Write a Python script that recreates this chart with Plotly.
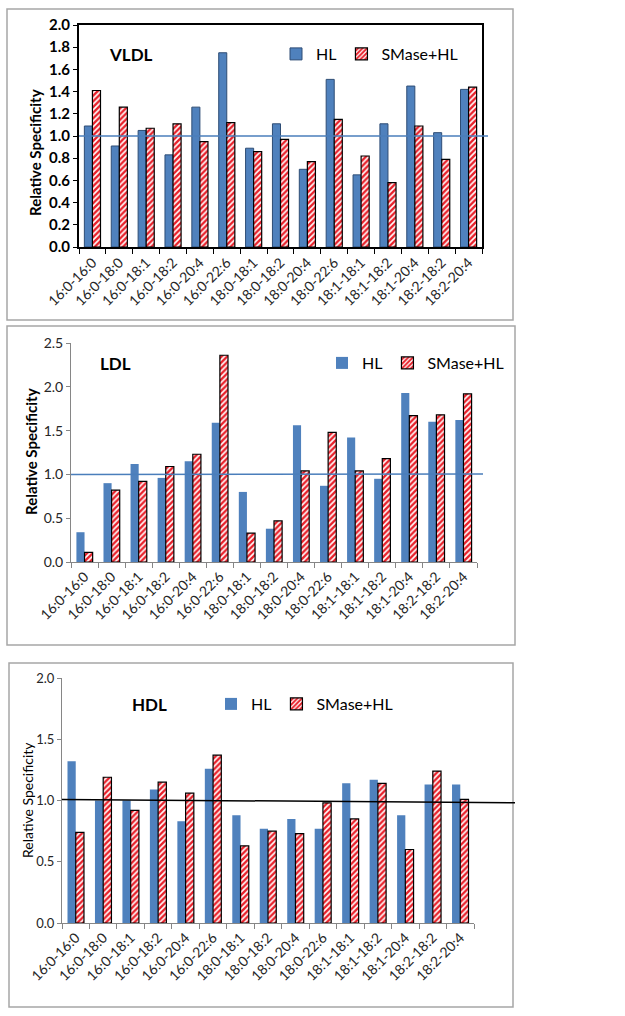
import plotly.graph_objects as go

categories = ["16:0-16:0", "16:0-18:0", "16:0-18:1", "16:0-18:2", "16:0-20:4", "16:0-22:6",
              "18:0-18:1", "18:0-18:2", "18:0-20:4", "18:0-22:6", "18:1-18:1", "18:1-18:2",
              "18:1-20:4", "18:2-18:2", "18:2-20:4"]

vldl_hl = [1.09, 0.91, 1.05, 0.83, 1.26, 1.75, 0.89, 1.11, 0.70, 1.51, 0.65, 1.11, 1.45, 1.03, 1.42]
vldl_smase = [1.41, 1.26, 1.07, 1.11, 0.95, 1.12, 0.86, 0.97, 0.77, 1.15, 0.82, 0.58, 1.09, 0.79, 1.44]

ldl_hl = [0.34, 0.90, 1.12, 0.96, 1.15, 1.59, 0.80, 0.38, 1.56, 0.87, 1.42, 0.95, 1.93, 1.60, 1.62]
ldl_smase = [0.11, 0.82, 0.92, 1.09, 1.23, 2.36, 0.33, 0.47, 1.04, 1.48, 1.04, 1.18, 1.67, 1.68, 1.92]

hdl_hl = [1.32, 1.00, 1.00, 1.09, 0.83, 1.26, 0.88, 0.77, 0.85, 0.77, 1.14, 1.17, 0.88, 1.13, 1.13]
hdl_smase = [0.74, 1.19, 0.92, 1.15, 1.06, 1.37, 0.63, 0.75, 0.73, 0.98, 0.85, 1.14, 0.60, 1.24, 1.01]

W, H = 625, 1016
FONT = "Lato"
BLUE = "#4F81BD"
RED = "#E8202A"


def px(x):
    return x / W


def py(y):
    return 1 - y / H


fig = go.Figure()

panels = [
    (vldl_hl, vldl_smase, "x", "y", "legend", True),
    (ldl_hl, ldl_smase, "x2", "y2", "legend2", False),
    (hdl_hl, hdl_smase, "x3", "y3", "legend3", False),
]

for hl, sm, xa, ya, lg, outline in panels:
    fig.add_trace(go.Bar(
        x=categories, y=hl, name="HL", xaxis=xa, yaxis=ya, legend=lg,
        marker=dict(color=BLUE,
                    line=dict(color="#2E4D75" if outline else BLUE, width=1 if outline else 0)),
    ))
    fig.add_trace(go.Bar(
        x=categories, y=sm, name="SMase+HL", xaxis=xa, yaxis=ya, legend=lg,
        marker=dict(color="white",
                    pattern=dict(shape="/", fgcolor=RED, bgcolor="white", size=4, solidity=0.6),
                    line=dict(color="black", width=1.2)),
    ))

tickfont_x = dict(family=FONT, size=14, color="#262626")


def xax(lo, hi, anchor, col, lw, mirror=False):
    return dict(domain=[px(lo), px(hi)], anchor=anchor, type="category", range=[-0.5, 14.5],
                tickangle=-45, tickfont=tickfont_x, tickson="boundaries", ticks="outside",
                ticklen=5, tickcolor=col, showline=True, linecolor=col, linewidth=lw,
                mirror=mirror, showgrid=False, zeroline=False, automargin=False)


legend_common = dict(orientation="h", xanchor="left", yanchor="middle",
                     font=dict(family=FONT, size=16, color="black"), itemwidth=30,
                     bgcolor="rgba(0,0,0,0)", traceorder="normal")

fig.update_layout(
    template="none",
    width=W, height=H,
    margin=dict(l=0, r=0, t=0, b=0, pad=0),
    paper_bgcolor="white", plot_bgcolor="rgba(0,0,0,0)",
    barmode="group", bargap=0.4, bargroupgap=0.0,
    font=dict(family=FONT, color="black"),
    xaxis=xax(79, 482, "y", "black", 2, True),
    yaxis=dict(domain=[py(247), py(25)], anchor="x", range=[0, 2.0], dtick=0.2, tickformat=".1f",
               ticks="outside", ticklen=4, tickcolor="black", showline=True, linecolor="black",
               linewidth=2, mirror=True, showgrid=False, zeroline=False, automargin=False,
               tickfont=dict(family=FONT, size=15, color="black", weight="bold")),
    xaxis2=xax(71, 477, "y2", "#868686", 1),
    yaxis2=dict(domain=[py(562), py(343)], anchor="x2", range=[0, 2.5], dtick=0.5, tickformat=".1f",
                ticks="outside", ticklen=4, tickcolor="#868686", showline=True, linecolor="#868686",
                linewidth=1, showgrid=False, zeroline=False, automargin=False,
                tickfont=dict(family=FONT, size=14, color="#262626")),
    xaxis3=xax(62, 474, "y3", "#868686", 1),
    yaxis3=dict(domain=[py(923), py(678)], anchor="x3", range=[0, 2.0], dtick=0.5, tickformat=".1f",
                ticks="outside", ticklen=4, tickcolor="#868686", showline=True, linecolor="#868686",
                linewidth=1, showgrid=False, zeroline=False, automargin=False,
                tickfont=dict(family=FONT, size=13, color="#262626")),
    legend=dict(x=px(276), y=py(54), **legend_common),
    legend2=dict(x=px(322), y=py(363), **legend_common),
    legend3=dict(x=px(211), y=py(704), **legend_common),
)

shapes = [
    dict(type="rect", xref="paper", yref="paper", x0=px(7), x1=px(513), y0=py(320), y1=py(9),
         line=dict(color="#A6A6A6", width=1.5)),
    dict(type="rect", xref="paper", yref="paper", x0=px(7), x1=px(515), y0=py(645), y1=py(326),
         line=dict(color="#A6A6A6", width=1.5)),
    dict(type="rect", xref="paper", yref="paper", x0=px(9), x1=px(513), y0=py(1007), y1=py(663),
         line=dict(color="#A6A6A6", width=1.5)),
    dict(type="line", xref="paper", yref="y", x0=px(79), x1=px(488), y0=1.0, y1=1.0,
         line=dict(color="#4A7EBB", width=1.5)),
    dict(type="line", xref="paper", yref="y2", x0=px(71), x1=px(483), y0=1.0, y1=1.005,
         line=dict(color="#4A7EBB", width=1.5)),
    dict(type="line", xref="paper", yref="y3", x0=px(62), x1=px(515), y0=1.008, y1=0.982,
         line=dict(color="black", width=1.5)),
]
fig.update_layout(shapes=shapes)

ann_common = dict(xref="paper", yref="paper", showarrow=False, xanchor="center", yanchor="middle")
annotations = [
    dict(text="<b>VLDL</b>", x=px(131), y=py(54), font=dict(family=FONT, size=17, color="black"), **ann_common),
    dict(text="<b>LDL</b>", x=px(116), y=py(363), font=dict(family=FONT, size=17, color="black"), **ann_common),
    dict(text="<b>HDL</b>", x=px(149), y=py(704), font=dict(family=FONT, size=17, color="black"), **ann_common),
    dict(text="<b>Relative Specificity</b>", x=px(35), y=py(153), textangle=-90,
         font=dict(family=FONT, size=15, color="black"), **ann_common),
    dict(text="<b>Relative Specificity</b>", x=px(31), y=py(452), textangle=-90,
         font=dict(family=FONT, size=15, color="black"), **ann_common),
    dict(text="Relative Specificity", x=px(27), y=py(800), textangle=-90,
         font=dict(family=FONT, size=14, color="black"), **ann_common),
]
fig.update_layout(annotations=annotations)

fig.write_html("out.html", config={"displayModeBar": False},
               post_script="document.body.style.margin='0px';")
